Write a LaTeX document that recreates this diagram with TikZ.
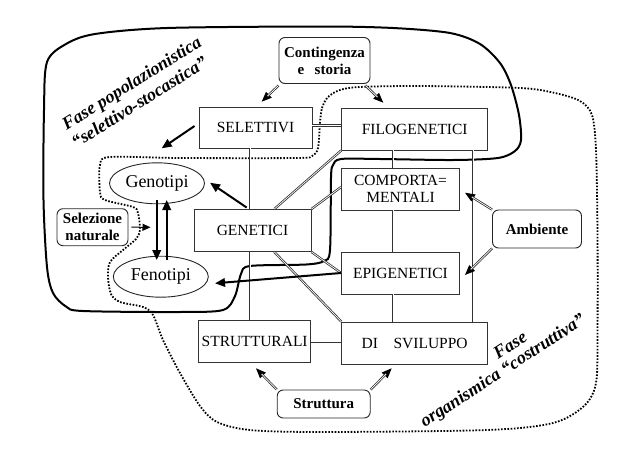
\documentclass[tikz,border=0pt]{standalone}
\usepackage{fontspec}
\setmainfont{Liberation Serif}
\usetikzlibrary{arrows.meta,calc,shapes.geometric}
\begin{document}
\begin{tikzpicture}[x=1pt,y=-1pt,
  box/.style={draw=black!80, line width=0.9pt, fill=white, inner sep=0pt, align=center,
    font=\fontsize{15.5}{17}\selectfont},
  rbox/.style={draw=black!85, line width=0.9pt, rounded corners=6pt, fill=white, inner sep=0pt,
    align=center, font=\fontsize{15}{17}\selectfont\bfseries},
  ell/.style={draw=black!85, line width=0.9pt, ellipse, fill=white, inner sep=0pt,
    minimum width=95pt, minimum height=41pt, font=\fontsize{18}{20}\selectfont},
  phase/.style={font=\bfseries\itshape, inner sep=0pt, align=center},
  dbl/.style={draw=black!80, double=white, double distance=0.7pt, line width=0.8pt},
  tipline/.style={line width=0.8pt, -{Triangle[length=10pt,width=8pt]}},
  thickarrow/.style={line width=2pt, -{Triangle[length=10pt,width=8.5pt]}},
  outline/.style={line width=2pt, line join=round},
  dotline/.style={line width=1.8pt, dash pattern=on 1.6pt off 1.6pt}
]
\useasboundingbox (0,0) rectangle (640,453);

% solid outline (phase 1)
\draw[outline] plot[smooth cycle, tension=0.5] coordinates {
 (44,110) (47,62) (66,44) (95,34) (167,28) (320,26.5) (393,28) (450,33) (480,44)
 (500,63) (511,85) (519,115) (521,140) (515,151) (498,158) (453,160) (380,159)
 (341,159) (333,165) (331,178) (330,250) (324,261) (306,264.5) (250,266) (241,274)
 (235,296) (223,310) (180,312) (83,311) (66,306.5) (53,293) (47,267) (43.5,200)};

% dotted outline (phase 2)
\draw[dotline] plot[smooth cycle, tension=0.5] coordinates {
 (320,123) (322,108) (328,97) (340,90) (360,87) (420,86) (520,88) (555,93) (580,101)
 (592,115) (596,150) (597.5,233) (597.5,333) (596,383) (584,406) (553,423) (487,430)
 (320,432) (250,430) (217,422) (200,406) (180,373) (163,340) (153,315) (143,307)
 (120,302) (111,294) (108,277) (110,262) (123,250) (136,239) (140,230) (138,213)
 (133,207) (105,200) (100,192) (100,165) (110,157) (180,158) (296,158) (312,156) (318,148)};

% nodes
\node[box, minimum width=113pt, minimum height=41pt] (sel) at (255.5,127.5) {SELETTIVI};
\node[box, minimum width=146pt, minimum height=42pt] (filo) at (414.7,129) {FILOGENETICI};
\node[box, minimum width=118pt, minimum height=42pt] (comp) at (400.5,189) {COMPORTA=\\MENTALI};
\node[box, minimum width=117pt, minimum height=42pt] (gen) at (252.5,230.5) {GENETICI};
\node[box, minimum width=118pt, minimum height=42pt] (epi) at (400.5,273) {EPIGENETICI};
\node[box, minimum width=112pt, minimum height=42pt] (strut) at (254.7,341.7) {STRUTTURALI};
\node[box, minimum width=146pt, minimum height=42pt] (svil) at (414.7,343) {DI\hspace{1em}SVILUPPO};

\node[rbox, minimum width=91pt, minimum height=46pt] (cont) at (324.5,60.5) {Contingenza\\e\hspace{0.7em}storia};
\node[rbox, minimum width=89pt, minimum height=38pt] (amb) at (537,229) {Ambiente};
\node[rbox, minimum width=93pt, minimum height=28pt] (stru) at (323.7,404) {Struttura};
\node[rbox, minimum width=71pt, minimum height=37pt] (selnat) at (92.5,227.2) {Selezione\\naturale};

\node[ell] (geno) at (157,183.3) {Genotipi};
\node[ell] (feno) at (160.8,276.7) {Fenotipi};

% phase labels
\node[phase, rotate=32, font=\fontsize{18}{20.5}\selectfont\bfseries\itshape] (p1) at (133.85,93.35)
  {\hspace*{7pt}Fase popolazionistica\\“selettivo-stocastica”};
\node[phase, rotate=33, font=\fontsize{18}{17}\selectfont\bfseries\itshape] (p2) at (498.8,364.8)
  {\hspace*{40pt}Fase\\organismica “costruttiva”};

% double connectors
\draw[dbl] ([yshift=2pt]sel.east) -- ([yshift=2pt]sel.east -| filo.west);
\draw[dbl] (250,0 |- sel.south) -- (250,0 |- gen.north);
\draw[dbl] (250,0 |- gen.south) -- (250,0 |- strut.north);
\draw[dbl] (393.3,0 |- filo.south) -- (393.3,0 |- comp.north);
\draw[dbl] (393.3,0 |- comp.south) -- (393.3,0 |- epi.north);
\draw[dbl] (393.3,0 |- epi.south) -- (393.3,0 |- svil.north);
\draw[dbl] (473.3,0 |- filo.south) -- (473.3,0 |- svil.north);
\draw[dbl] (filo.south west) -- (274.3,0 |- gen.north);
\draw[dbl] ([yshift=2pt]comp.west) -- (gen.north east);
\draw[dbl] (gen.south east) -- (epi.west);
\draw[dbl] (274.3,0 |- gen.south) -- (svil.north west);
\draw[dbl] ([yshift=-1.5pt]strut.east) -- ([yshift=-1.5pt]strut.east -| svil.west);

% input arrows (double shaft, black head)
\coordinate (c1) at (261.7,101.7);
\coordinate (c2) at (383.3,102.7);
\coordinate (a1) at (465,192.7);
\coordinate (a2) at (465,275);
\coordinate (s1) at (256,368.3);
\coordinate (s2) at (391.7,368.3);
\coordinate (ct1) at ($(cont.south west)+(0,1.5)$);
\coordinate (ct2) at ($(cont.south east)+(-5,1.5)$);
\foreach \t/\h in {ct1/c1, ct2/c2, amb.north west/a1, amb.south west/a2, stru.north west/s1, stru.north east/s2}{
  \draw[tipline] (\t) -- (\h);
  \draw[dbl, shorten >=8pt] (\t) -- (\h);
}

% thick black arrows
\coordinate (selt) at ($(sel.west)+(-4,-1.5)$);
\coordinate (selh) at (161.7,148.3);
\draw[thickarrow] (selt) -- (selh);
\coordinate (gent) at ($(gen.north)+(-5.8,-1.5)$);
\coordinate (genh) at (210,182.7);
\draw[thickarrow] (gent) -- (genh);
\coordinate (epih) at (215,283.3);
\draw[thickarrow] (epi.west) -- (epih);
\coordinate (gd1) at (156.7,200);
\coordinate (gd2) at (156.7,260);
\coordinate (fu1) at (166.7,260);
\coordinate (fu2) at (166.7,200);
\draw[thickarrow] (gd1) -- (gd2);
\draw[thickarrow] (fu1) -- (fu2);

% selezione naturale arrow
\coordinate (snh) at (150.5,227.3);
\draw[line width=1pt, -{Triangle[length=8pt,width=7pt]}] ([xshift=3pt]selnat.east) -- (snh);
\end{tikzpicture}
\end{document}
